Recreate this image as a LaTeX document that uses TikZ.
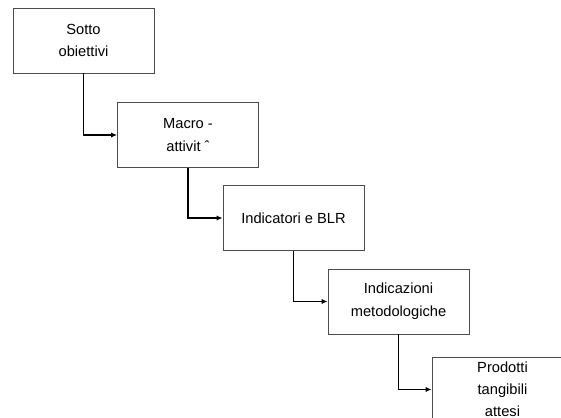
\documentclass[tikz,border=0pt]{standalone}
\usepackage{fontspec}
\setmainfont{Liberation Sans}
\usetikzlibrary{arrows.meta}

\begin{document}
\begin{tikzpicture}[
  x=0.75pt, y=-0.75pt,
  font=\fontsize{11}{15}\selectfont,
  box/.style={
    draw=black!70,
    line width=0.6pt,
    align=center,
    minimum width=105.75pt,
    minimum height=48.75pt,
    inner sep=0pt
  },
  arrow/.style={-{Latex[length=1.6mm,width=1.4mm]}, line width=1.3pt}
]
\useasboundingbox (0,0) rectangle (561,418);
\clip (0,0) rectangle (561,418);

\node[box] (sotto) at (83.5,40.5) {Sotto\\[2pt]obiettivi};
\node[box] (macro) at (188,135) {Macro -\\[2pt]attivit ˆ};
\node[box] (indic) at (293.5,218) {Indicatori e BLR};
\node[box] (metod) at (398.5,301.5) {Indicazioni\\[2pt]metodologiche};
\node[box] (prod) at (502.5,389.5) {Prodotti\\[1.5pt]tangibili\\[1.5pt]attesi};

\draw[arrow] (sotto.south) |- (macro.west);
\draw[arrow] (macro.south) |- (indic.west);
\draw[arrow] (indic.south) |- (metod.west);
\draw[arrow] (metod.south) |- (prod.west);

\end{tikzpicture}
\end{document}
